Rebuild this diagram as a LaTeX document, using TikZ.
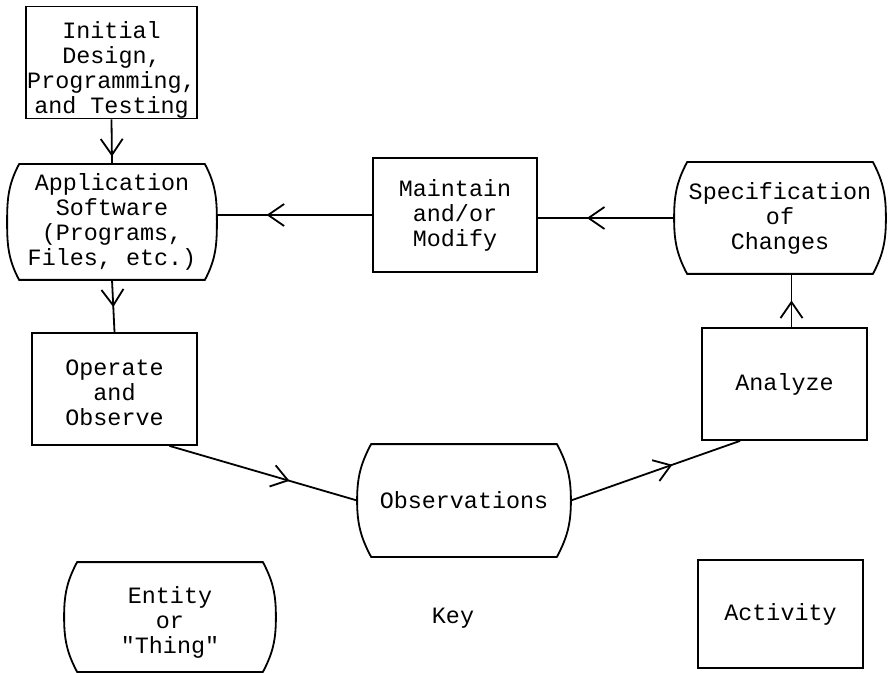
\documentclass[tikz,border=0pt]{standalone}
\usepackage{fontspec}
\setmonofont{Liberation Mono}
\usetikzlibrary{arrows.meta,decorations.markings}

\tikzset{
  activity/.style={draw,line width=.9pt,inner sep=0pt,align=center},
  entity/.style={inner sep=0pt,align=center},
  midarrow/.style={postaction={decorate},decoration={markings,
    mark=at position #1 with {\arrow{Straight Barb[length=8pt,width=11pt]}}}},
}
% curved sides of an entity (bulge at west/east anchors)
\newcommand{\Entidade}[2]{%
\draw[line width=.9pt]([xshift=#2]#1.north west)--([xshift=-#2]#1.north east)
  to[out=-62,in=90](#1.east)to[out=-90,in=62]([xshift=-#2]#1.south east)
  --([xshift=#2]#1.south west)to[out=118,in=-90](#1.west)
  to[out=90,in=-118]cycle;}

\begin{document}
\begin{tikzpicture}[x=.5pt,y=-.5pt,line width=.9pt,
  every node/.style={font=\ttfamily\fontsize{11.7}{12.5}\selectfont}]
\useasboundingbox(0,0)rectangle(888,673);
% activities
\node[activity,minimum width=85.5pt,minimum height=55.5pt](init)at(111.5,62.5)
  {\rule{0pt}{16pt}Initial\\Design,\\Programming,\\and Testing};
\node[activity,minimum width=82.5pt,minimum height=56pt](operate)at(114.5,389)
  {\rule{0pt}{12pt}Operate\\and\\Observe};
\node[activity,minimum width=82pt,minimum height=57pt](maint)at(455,215)
  {Maintain\\and/or\\Modify};
\node[activity,minimum width=82.5pt,minimum height=56pt](analyze)at(784.5,384)
  {Analyze};
\node[activity,minimum width=82.5pt,minimum height=54pt](activity)at(780.5,614)
  {Activity};
% entities
\node[entity,minimum width=104pt,minimum height=57pt](app)at(112,222)
  {Application\\Software\\(Programs,\\Files, etc.)};
\node[entity,minimum width=105pt,minimum height=55pt](spec)at(780,218)
  {Specification\\of\\Changes};
\node[entity,minimum width=106pt,minimum height=55.5pt](obs)at(464,500.5)
  {Observations};
\node[entity,minimum width=105pt,minimum height=54pt](thing)at(170,617)
  {\rule{0pt}{14pt}Entity\\or\\"Thing"};
\Entidade{app}{6pt}
\Entidade{spec}{6.5pt}
\Entidade{obs}{7pt}
\Entidade{thing}{6.5pt}
\node(key)at(453,618){Key};
% connectors
\draw[midarrow=.83](init.south)--(app.north);
\draw[midarrow=.52](app.south)--(operate.north);
\draw[midarrow=.64](operate.-46)--(obs.west);
\draw[midarrow=.6](obs.east)--(analyze.-128);
\draw[midarrow=.5]([xshift=3.5pt]analyze.north)--([xshift=3.5pt]analyze.north|-spec.south);
\draw[midarrow=.64](spec.west)--(spec.west-|maint.east);
\draw[midarrow=.68](maint.west)--(maint.west-|app.east);
\end{tikzpicture}
\end{document}
